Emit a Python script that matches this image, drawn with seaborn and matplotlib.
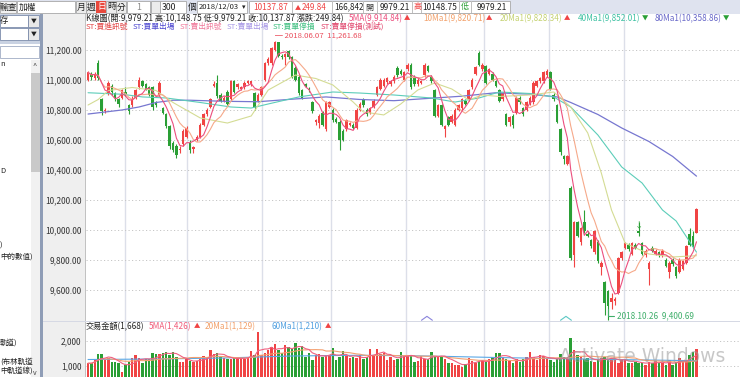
import numpy as np
import pandas as pd
import matplotlib
matplotlib.use("Agg")
import matplotlib.pyplot as plt
from matplotlib.patches import Rectangle
import seaborn as sns

sns.set_theme(style="white")
plt.rcParams['font.family'] = ['Noto Sans CJK TC', 'DejaVu Sans']
plt.rcParams['axes.unicode_minus'] = False

# ---- daily candles, 2018 mid-March .. 2018/12/03 ----
opens = [11000, 11040, 11010, 11110, 10870, 10790, 10910, 10960, 10910, 10870,
         10880, 10920, 10830, 10830, 10880, 10950, 10990, 10970, 10950, 10950,
         10850, 10900, 10810, 10770, 10690, 10580, 10560, 10530, 10570, 10620,
         10580, 10540, 10600, 10620, 10700, 10770, 10820, 10960, 10980, 10900,
         10860, 10920, 10870, 10990, 10950, 10940, 10950, 10980, 10975, 10910,
         10860, 10900, 11000, 11110, 11110, 11200, 11250, 11160, 11150, 11190,
         11150, 11080, 11020, 10930, 10970, 10940, 10850, 10720, 10710, 10780,
         10670, 10820, 10800, 10740, 10720, 10660, 10670, 10700, 10700, 10680,
         10800, 10870, 10800, 10780, 10820, 10900, 10940, 10960, 10985, 10975,
         10990, 11080, 11060, 11000, 11070, 11100, 11020, 10970, 10980, 11030,
         11090, 11020, 10930, 10760, 10830, 10670, 10750, 10720, 10700, 10800,
         10810, 10860, 10870, 10950, 11040, 11180, 11070, 11090, 11040, 11040,
         10990, 10930, 10870, 10770, 10720, 10760, 10780, 10880, 10810, 10800,
         10840, 10850, 10960, 10990, 10990, 11030, 11050, 10900, 10830, 10670,
         10490, 10440, 10280, 9830, 10050, 9920, 10050, 9970, 9930, 9850,
         9920, 9750, 9650, 9590, 9520, 9525, 9580, 9810, 9880, 9900,
         9840, 9900, 9990, 9910, 9830, 9740, 9880, 9840, 9850, 9830,
         9800, 9720, 9800, 9750, 9720, 9740, 9780, 9970, 9960, 9979.21]
highs = [11060, 11050, 11050, 11130, 10880, 10810, 10990, 10970, 10920, 10880,
         10940, 10950, 10840, 10890, 10940, 11020, 11000, 10980, 10960, 10960,
         10860, 10990, 10820, 10780, 10700, 10590, 10570, 10560, 10670, 10690,
         10600, 10560, 10630, 10710, 10780, 10810, 10880, 10990, 11030, 10910,
         10890, 10930, 11000, 11000, 10980, 10960, 10990, 11000, 10995, 10920,
         10910, 10960, 11120, 11150, 11220, 11261.68, 11255, 11170, 11180, 11200,
         11160, 11090, 11030, 10940, 10980, 10950, 10860, 10740, 10770, 10790,
         10860, 10860, 10810, 10750, 10730, 10670, 10740, 10720, 10710, 10810,
         10850, 10880, 10810, 10820, 10870, 10960, 11010, 11010, 11020, 11000,
         11030, 11090, 11070, 11060, 11110, 11110, 11030, 11010, 11000, 11110,
         11100, 11030, 10940, 10840, 10840, 10700, 10760, 10770, 10810, 10840,
         10880, 10870, 10940, 11010, 11090, 11190, 11110, 11100, 11080, 11050,
         11000, 10940, 10920, 10780, 10760, 10770, 10890, 10890, 10820, 10860,
         10890, 10990, 11000, 11020, 11060, 11070, 11060, 10910, 10840, 10680,
         10500, 10500, 10290, 10060, 10060, 10020, 10130, 9990, 9940, 10000,
         9930, 9790, 9660, 9600, 9580, 9550, 9820, 9860, 9920, 9910,
         9920, 9910, 10050, 9920, 9870, 9790, 9890, 9870, 9860, 9870,
         9810, 9790, 9810, 9760, 9810, 9800, 9900, 10010, 9990, 10148.75]
lows = [10990, 11000, 11000, 11000, 10765, 10780, 10900, 10900, 10860, 10820,
        10870, 10890, 10770, 10820, 10870, 10940, 10950, 10930, 10890, 10800,
        10820, 10890, 10770, 10680, 10540, 10520, 10480, 10510, 10560, 10610,
        10510, 10510, 10590, 10610, 10690, 10760, 10810, 10950, 10880, 10850,
        10850, 10830, 10860, 10910, 10940, 10930, 10940, 10970, 10960, 10800,
        10850, 10890, 10990, 11100, 11100, 11190, 11150, 11140, 11100, 11140,
        11010, 10990, 10900, 10870, 10950, 10920, 10780, 10700, 10680, 10690,
        10660, 10810, 10720, 10710, 10530, 10590, 10660, 10690, 10670, 10670,
        10790, 10820, 10760, 10770, 10810, 10890, 10930, 10950, 10970, 10960,
        10980, 11020, 11030, 10990, 11060, 10940, 10960, 10960, 10970, 11020,
        11050, 10980, 10750, 10750, 10690, 10620, 10690, 10710, 10690, 10790,
        10800, 10830, 10860, 10940, 11030, 11090, 11060, 10970, 11030, 10990,
        10950, 10850, 10860, 10690, 10690, 10680, 10770, 10840, 10760, 10790,
        10830, 10840, 10950, 10980, 10980, 11020, 10930, 10860, 10710, 10500,
        10440, 10430, 9800, 9750, 9950, 9900, 9980, 9950, 9880, 9840,
        9780, 9700, 9430, 9400.69, 9470, 9500, 9570, 9800, 9870, 9860,
        9830, 9870, 9960, 9830, 9820, 9630, 9850, 9830, 9820, 9820,
        9750, 9680, 9760, 9680, 9710, 9730, 9770, 9890, 9880, 9979.21]
closes = [11050, 11020, 11040, 11010, 10790, 10800, 10980, 10920, 10880, 10840,
          10930, 10900, 10790, 10870, 10930, 11000, 10960, 10940, 10900, 10820,
          10830, 10980, 10780, 10690, 10560, 10530, 10500, 10540, 10660, 10680,
          10530, 10550, 10620, 10700, 10770, 10800, 10870, 10970, 10890, 10860,
          10880, 10840, 10990, 10920, 10970, 10950, 10980, 10990, 10990, 10820,
          10900, 10950, 11110, 11140, 11210, 11250, 11160, 11150, 11170, 11150,
          11020, 11000, 10910, 10880, 10960, 10930, 10790, 10730, 10760, 10700,
          10850, 10850, 10730, 10720, 10600, 10600, 10730, 10710, 10680, 10800,
          10840, 10830, 10770, 10810, 10860, 10950, 11000, 11000, 11010, 10990,
          11020, 11030, 11040, 11050, 11100, 10950, 10970, 11000, 10990, 11100,
          11060, 10990, 10760, 10830, 10700, 10690, 10700, 10760, 10800, 10830,
          10870, 10840, 10930, 11000, 11085, 11100, 11100, 10980, 11070, 11000,
          10960, 10860, 10910, 10700, 10750, 10700, 10880, 10850, 10770, 10850,
          10880, 10980, 10990, 11010, 11050, 11060, 10940, 10870, 10720, 10520,
          10470, 10490, 9810, 10050, 9960, 10010, 9990, 9960, 9890, 9990,
          9790, 9780, 9510, 9490, 9545, 9540, 9810, 9850, 9910, 9870,
          9910, 9880, 9980, 9840, 9860, 9780, 9860, 9860, 9830, 9860,
          9760, 9780, 9770, 9690, 9800, 9790, 9890, 9900, 9888, 10137.87]

# 交易金額 (trade value) per day
volumes = [1110, 1110, 1270, 1480, 1480, 1240, 1330, 1170, 1170, 1110,
           770, 1040, 1170, 1310, 1440, 1310, 1110, 1270, 1270, 1510,
           1470, 1480, 1530, 1570, 1440, 1570, 1370, 1170, 1170, 1270,
           1200, 1170, 1200, 1270, 1400, 1370, 1640, 1480, 1510, 1370,
           1310, 1270, 1270, 1310, 1370, 1310, 1270, 1370,
           1610, 1440, 2370, 1440, 1530, 1640, 1770, 1880, 1640, 1530,
           1840, 1770, 1670, 1910, 1710, 1800, 1370, 1510, 1240, 1440,
           1480, 1370, 1440, 1440, 1710, 1240, 1350, 1610, 1400, 1310,
           1350, 1310, 1440, 1270, 1350, 1670, 1440, 1670, 1480, 1530,
           1240, 1370, 1240, 1270, 1570, 1440, 1440, 1400, 1170, 1210,
           1400, 1270, 1270, 1570, 1370, 1370, 1400, 1270, 1130, 1130,
           1040, 1040, 970, 1070, 1310, 1210, 1130, 1200, 1200, 1170,
           1270, 1370, 1530, 1530,
           1370, 1270, 1210, 1130, 1270, 1170, 1270, 1370, 1570, 1350,
           1240, 1440, 1400, 1310, 1240, 1170, 1270, 1480, 1370, 1270,
           2110, 1640, 1440, 1370, 1270, 1310, 1200, 1170, 1270, 1310,
           1370, 1270, 1310, 1240, 1130, 1270, 1270, 1130, 1130, 1170,
           1110, 1130, 1040, 1170, 1130, 1210, 1110, 1130, 1040, 1240,
           1040, 1170, 1310, 1180, 1260, 1450, 1570, 1668]

# longer moving averages (bar index, value)
ma20_x = [0, 3, 6, 13, 20, 25, 33, 41, 48, 53, 61, 67, 72, 78, 81, 87, 92, 97,
          102, 107, 112, 116, 121, 130, 137, 142, 147, 151, 154, 158, 165, 172, 179]
ma20_y = [10833, 10870, 10930, 10950, 10930, 10850, 10747, 10713, 10760, 10933,
          11033, 11010, 10967, 10853, 10787, 10767, 10840, 10933, 10980, 10940,
          10867, 10900, 10890, 10900, 10920, 10820, 10647, 10380, 10133, 9913,
          9840, 9820, 9828.34]
ma40_x = [0, 10, 16, 23, 33, 42, 48, 53, 62, 72, 80, 90, 101, 108, 115, 121,
          130, 137, 142, 150, 157, 163, 169, 173, 179]
ma40_y = [10915, 10905, 10887, 10880, 10850, 10820, 10813, 10840, 10887, 10920,
          10913, 10900, 10880, 10853, 10880, 10920, 10910, 10887, 10820, 10633,
          10420, 10313, 10133, 10060, 9852.01]
ma80_x = [0, 10, 15, 20, 25, 30, 40, 50, 60, 70, 80, 90, 100, 110, 120, 130,
          138, 142, 150, 157, 165, 172, 179]
ma80_y = [10773, 10800, 10820, 10850, 10865, 10865, 10858, 10855, 10872, 10887,
          10870, 10862, 10877, 10892, 10915, 10905, 10887, 10850, 10770, 10680,
          10590, 10490, 10358.86]
vma60_x = [0, 20, 40, 60, 80, 100, 120, 140, 160, 179]
vma60_y = [1260, 1280, 1320, 1400, 1430, 1400, 1340, 1290, 1250, 1210]

month_lines = [10.9, 29.1, 51.2, 71.5, 93.5, 116.5, 135.6, 157.6]
price_ticks = [9600, 9800, 10000, 10200, 10400, 10600, 10800, 11000, 11200]
vol_ticks = [1000, 2000]
signal_x = [99.7, 140.6]
signal_c = ['#8a84dc', '#5cc8c4']

df = pd.DataFrame({'o': opens, 'h': highs, 'l': lows, 'c': closes, 'v': volumes})
df['i'] = np.arange(len(df))
df['ma5'] = df['c'].rolling(5, min_periods=1).mean()
df['ma10'] = df['c'].rolling(10, min_periods=1).mean()
df['vma5'] = df['v'].rolling(5, min_periods=1).mean()
df['vma20'] = df['v'].rolling(20, min_periods=1).mean()
up = (df['c'] >= df['o']).values

RED = '#f04444'
GREEN = '#2a9f35'
C5, C10, C20, C40, C80 = '#ec4f7e', '#f6a98a', '#d4dc94', '#5ccdb9', '#7777d0'
cols = np.where(up, RED, GREEN)

W, H = 740, 377
fig = plt.figure(figsize=(W / 100, H / 100), dpi=100)
fig.patch.set_facecolor('white')


def box(x0, y0, x1, y1, fc, ec='none', lw=0.6, z=-5):
    fig.add_artist(Rectangle((x0 / W, 1 - y1 / H), (x1 - x0) / W, (y1 - y0) / H,
                             transform=fig.transFigure, facecolor=fc,
                             edgecolor=ec, linewidth=lw, zorder=z))


def txt(x, y, s, c='#222222', fs=5.8, **kw):
    fig.text(x / W, 1 - y / H, s, color=c, fontsize=fs, va='center', ha='left', **kw)


# ---- chrome: toolbar, left panel, axis strip ----
box(0, 0, 740, 14, '#dfe3ef')
box(0, 1, 16, 13, '#f2f2f2', '#a8a8a8')
box(17, 1, 75, 13, 'white', '#a8a8a8')
for bx in [76, 86, 106, 116]:
    box(bx, 1, bx + 10, 13, '#ececec', '#a8a8a8')
box(96, 1, 106, 13, '#e8483c')
box(127, 1, 150, 13, 'white', '#a8a8a8')
box(151, 1, 160, 13, '#ececec', '#a8a8a8')
box(160, 1, 186, 13, 'white', '#a8a8a8')
box(197, 1, 247, 13, 'white', '#a8a8a8')
box(249, 1, 510, 13, 'white', '#a8a8a8')
for sx in [292, 332, 363, 377, 412, 421, 459, 471]:
    box(sx, 1, sx + 0.6, 13, '#c0c0c0')

tb = 7
txt(0, tb, '輸查', fs=6.3)
txt(19, tb, '加權', fs=6.3)
for s, x in [('月', 77), ('週', 87), ('時', 107), ('分', 117)]:
    txt(x, tb, s, fs=6.3)
txt(97, tb, '日', c='white', fs=6.3)
txt(136, tb, '1', c='#888888', fs=6.3)
txt(162, tb, '300', fs=6.3)
txt(188, tb, '個', fs=6.3)
txt(198.5, tb, '2018/12/03', fs=5.5)
txt(241.5, tb, '▾', fs=5)
txt(253, tb, '10137.87', c=RED, fs=6.0)
txt(294.5, tb, '▲', c=RED, fs=4.4)
txt(301.5, tb, '249.84', c=RED, fs=5.8)
txt(334, tb, '166,842', fs=5.8)
txt(365, tb, '開', c='#333333', fs=5.8)
txt(380, tb, '9979.21', fs=6.0)
txt(413.5, tb, '高', c=RED, fs=5.8)
txt(422.5, tb, '10148.75', fs=6.0)
txt(461, tb, '低', c=GREEN, fs=5.8)
txt(477, tb, '9979.21', fs=6.0)

box(0, 14, 40, 377, 'white')
box(0, 14, 40, 44, '#c9d2e2')
box(0, 15, 28, 27, 'white', '#7d8cab')
box(28, 15, 39, 27, '#e8e8e8', '#7d8cab')
box(0, 28, 28, 40, 'white', '#7d8cab')
box(28, 28, 39, 40, '#e8e8e8', '#7d8cab')
txt(30.5, 21, '▼', fs=4.2)
txt(30.5, 34, '▼', fs=4.2)
txt(0, 21, '存', fs=6.0)
box(0, 46, 39, 58, 'white', '#a0acc4')
box(31, 60, 40, 377, '#f1f1f1')
box(31, 73, 40, 172, '#c9c9c9')
txt(32.5, 66, '^', fs=5.5, c='#444444')
txt(32.5, 373, 'v', fs=5.0, c='#444444')
for s, y in [('n', 64), ('D', 171), (')', 246), ('中的數值)', 257),
             ('軌道)', 343), ('(布林軌道', 362), ('中軌道線)', 372)]:
    txt(0, y, s, fs=5.4)
box(40, 14, 43, 377, '#8f9db6')
box(43, 14, 85, 377, '#efefef')
box(85, 14, 86, 377, '#c2c2c2')

# ---- price panel ----
ax = fig.add_axes([86 / W, 1 - 321 / H, 654 / W, 307 / H])
axv = fig.add_axes([86 / W, 0, 654 / W, 56 / H])
for a in (ax, axv):
    a.set_xlim(-0.6, 191.8)
    a.set_facecolor('white')
    for sp in a.spines.values():
        sp.set_visible(False)
    a.set_xticks([])
    a.tick_params(axis='y', length=0, pad=3.2, labelsize=6.0, labelcolor='#333333')
    a.yaxis.grid(True, linestyle=(0, (1.2, 2.4)), color='#c6c6c6', linewidth=0.7)
    a.xaxis.grid(False)
    for m in month_lines:
        a.axvline(m, color='#dcdfe9', linewidth=1.0, zorder=0.5)

ax.set_ylim(9393, 11440)
ax.set_yticks(price_ticks)
ax.set_yticklabels([f'{t:,.2f}' for t in price_ticks])

ax.vlines(df['i'], df['l'], df['h'], colors=cols, linewidth=0.8, zorder=3)
body = (df['c'] - df['o']).abs().clip(lower=6)
ax.bar(df['i'], body, bottom=np.minimum(df['o'], df['c']), width=0.74,
       color=cols, linewidth=0, zorder=4)

sns.lineplot(x=ma80_x, y=ma80_y, ax=ax, color=C80, linewidth=0.9, zorder=5)
sns.lineplot(x=ma40_x, y=ma40_y, ax=ax, color=C40, linewidth=0.8, zorder=5)
sns.lineplot(x=ma20_x, y=ma20_y, ax=ax, color=C20, linewidth=0.8, zorder=5)
sns.lineplot(data=df, x='i', y='ma10', ax=ax, color=C10, linewidth=0.8, zorder=5)
sns.lineplot(data=df, x='i', y='ma5', ax=ax, color=C5, linewidth=0.8, zorder=5)
ax.set_xlabel('')
ax.set_ylabel('')

for sx, sc in zip(signal_x, signal_c):
    ax.plot([sx - 1.6, sx, sx + 1.6], [9398, 9424, 9398], color=sc, linewidth=0.8, zorder=6)

lo = int(np.argmin(lows))
ax.plot([lo, lo, lo + 1.8], [lows[lo] + 75, lows[lo] + 28, lows[lo] + 28],
        color='#3fae6a', linewidth=0.8, zorder=6)
ax.text(lo + 2.6, lows[lo] + 28, f'2018.10.26  {lows[lo]:,.2f}', color='#3fae6a',
        fontsize=5.9, va='center', ha='left', zorder=7)
ax.text(162, 10035, '↓', color=GREEN, fontsize=6, va='center', ha='center', zorder=7)

# header legends
r1, r2, r3 = 18.5, 26.5, 35.5
txt(86, r1, 'K線圖(開:9,979.21 高:10,148.75 低:9,979.21 收:10,137.87 漲跌:249.84)', fs=5.9)
for s, x, c, arr, ac in [('5MA(9,914.84)', 349, C5, '▲', RED),
                         ('10Ma1(9,820.71)', 423, '#f2a06a', '▲', RED),
                         ('20Ma1(9,828.34)', 500, '#c5d272', '▲', RED),
                         ('40Ma1(9,852.01)', 578, '#3fc1a3', '▼', GREEN),
                         ('80Ma1(10,358.86)', 655, '#6767c8', '▼', GREEN)]:
    t = fig.text(x / W, 1 - r1 / H, s, color=c, fontsize=5.9, va='center', ha='left')
    fig.canvas.draw()
    bb = t.get_window_extent()
    fig.text(bb.x1 / W + 1 / W, 1 - r1 / H, arr, color=ac, fontsize=4.6, va='center', ha='left')
for s, x, c in [('ST:買進訊號', 86, '#e24444'), ('ST:買單出場', 133, '#4b45d0'),
                ('ST:賣出訊號', 180, '#f0789a'), ('ST:賣單出場', 227, '#a898e6'),
                ('ST:買單停損', 273, '#3cbf7e'), ('ST:賣單停損(測試)', 321, '#e0436a')]:
    txt(x, r2, s, c=c, fs=5.6)
txt(275, r3, f'─ 2018.06.07  {max(highs):,.2f}', c='#ea4d5c', fs=5.6)

# ---- volume panel ----
axv.set_ylim(560, 2800)
axv.set_yticks(vol_ticks)
axv.set_yticklabels([f'{t:,}' for t in vol_ticks])
axv.bar(df['i'], df['v'], width=0.72, color=cols, linewidth=0, zorder=3)
sns.lineplot(x=vma60_x, y=vma60_y, ax=axv, color='#5aa8e6', linewidth=0.8, zorder=5)
sns.lineplot(data=df, x='i', y='vma20', ax=axv, color='#f4a070', linewidth=0.8, zorder=5)
sns.lineplot(data=df, x='i', y='vma5', ax=axv, color='#f06080', linewidth=0.8, zorder=5)
axv.set_xlabel('')
axv.set_ylabel('')

box(43, 320.5, 740, 321.5, '#d6d9e4', z=10)
r4 = 326.5
txt(86, r4, '交易金額(1,668)', fs=5.9)
txt(149, r4, '5MA(1,426)', c='#f05a78', fs=5.9)
txt(194, r4, '▲', c=RED, fs=4.6)
txt(205, r4, '20Ma1(1,129)', c='#f2a06a', fs=5.9)
txt(271, r4, '60Ma1(1,210)', c='#4f9fe0', fs=5.9)
txt(325, r4, '▲', c=RED, fs=4.6)

fig.text(559 / W, 1 - 356 / H, 'Activate Windows', color='#9a9a9a', alpha=0.55,
         fontsize=13.5, family='DejaVu Sans', va='center', ha='left')

fig.savefig('out.png', dpi=100, facecolor='white')
